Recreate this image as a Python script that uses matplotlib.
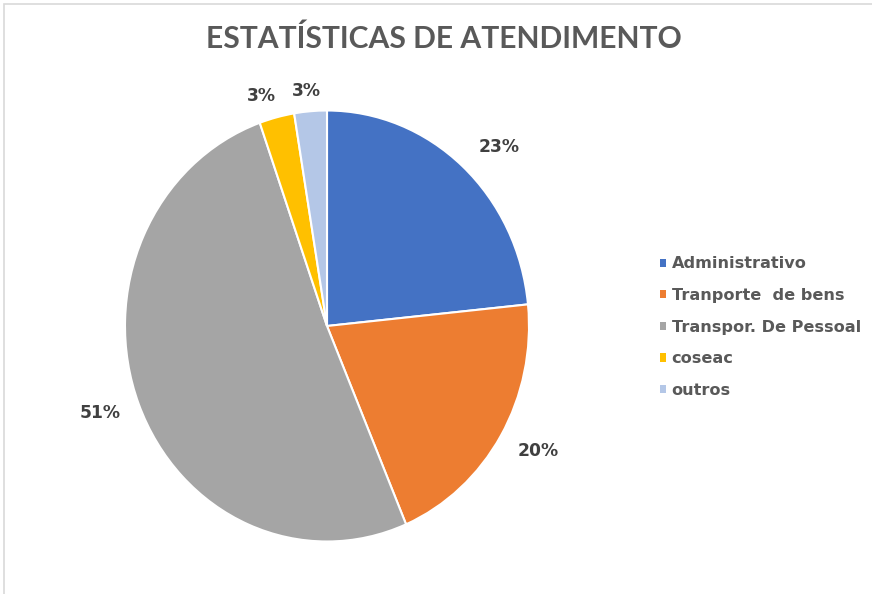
import numpy as np
import matplotlib.pyplot as plt
from matplotlib.patches import Rectangle

categorias = ['Administrativo', 'Tranporte  de bens', 'Transpor. De Pessoal', 'coseac', 'outros']
valores = [23.4, 20.2, 51.0, 2.8, 2.6]
cores = ['#4472C4', '#ED7D31', '#A5A5A5', '#FFC000', '#B4C7E7']
# posicao dos rotulos: distancia do centro e ajuste de angulo (graus)
dist_rotulos = [1.19, 1.195, 1.194, 1.116, 1.095]
ajuste_ang = [-3.6, 1.6, -1.4, 2.6, 0.7]

fig = plt.figure(figsize=(8.72, 5.94), dpi=100)
W, H = 872, 594

# moldura cinza clara do grafico
fig.patches.append(Rectangle((4 / W, -0.1), 1.2, (594 - 4) / H + 0.1, transform=fig.transFigure,
                             fill=False, edgecolor='#D9D9D9', linewidth=1.2))

fig.text(444 / W, 1 - 39 / H, 'ESTATÍSTICAS DE ATENDIMENTO', ha='center', va='center',
         fontsize=21.6, fontweight='bold', color='#595959', family='Lato')

# pizza levemente esticada na vertical, como no original
cx, cy, rx, ry = 327, 594 - 326, 202, 215.5
ax = fig.add_axes([(cx - rx) / W, (cy - ry) / H, 2 * rx / W, 2 * ry / H])
wedges, textos, pcts = ax.pie(valores, colors=cores, startangle=90, counterclock=False,
                              autopct='%.0f%%', pctdistance=1.18,
                              wedgeprops=dict(edgecolor='white', linewidth=1.5),
                              textprops=dict(fontsize=12.3, fontweight='bold', color='#404040',
                                             family='DejaVu Sans'))
for w, p, d, da in zip(wedges, pcts, dist_rotulos, ajuste_ang):
    ang = np.deg2rad((w.theta1 + w.theta2) / 2 + da)
    p.set_position((d * np.cos(ang), d * np.sin(ang)))
ax.set_aspect('auto')
ax.set_xlim(-1, 1)
ax.set_ylim(-1, 1)
ax.axis('off')

leg = fig.legend(wedges, categorias, loc='upper left', bbox_to_anchor=(645 / W, 1 - 242 / H),
                 frameon=False, handlelength=0.4, handleheight=0.4, handletextpad=0.35,
                 labelspacing=1.03, prop=dict(size=11.6, weight='bold', family='DejaVu Sans'))
for t in leg.get_texts():
    t.set_color('#595959')
for h in leg.legend_handles:
    h.set_linewidth(0)

fig.savefig('out.png', dpi=100)
